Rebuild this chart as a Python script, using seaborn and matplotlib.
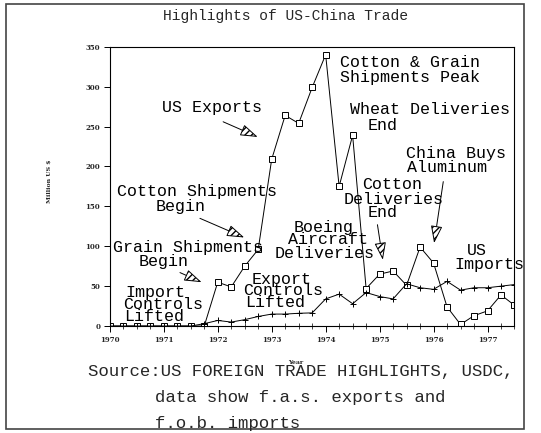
import matplotlib
matplotlib.use("Agg")
import matplotlib.pyplot as plt
import seaborn as sns
import pandas as pd
from matplotlib.patches import Rectangle

# quarterly observations, million US $
quarters = [1970.0, 1970.25, 1970.5, 1970.75, 1971.0, 1971.25, 1971.5, 1971.75,
            1972.0, 1972.25, 1972.5, 1972.75, 1973.0, 1973.25, 1973.5, 1973.75,
            1974.0, 1974.25, 1974.5, 1974.75, 1975.0, 1975.25, 1975.5, 1975.75,
            1976.0, 1976.25, 1976.5, 1976.75, 1977.0, 1977.25, 1977.5]
exports = [0, 0, 0, 0, 0, 0, 0, 0,
           55, 49, 75, 96, 209, 264, 254, 299,
           340, 175, 239, 47, 65, 69, 51, 99,
           79, 24, 2, 13, 19, 39, 26]
imports = [0, 0, 0, 0, 0, 0, 0, 3,
           7, 5, 8, 12, 15, 15, 16, 16.5,
           34, 40, 28, 42, 37, 34, 53, 48,
           46, 56, 45, 48, 48, 50, 52]
year_ticks = [1970, 1971, 1972, 1973, 1974, 1975, 1976, 1977]
y_ticks = [0, 50, 100, 150, 200, 250, 300, 350]

# text labels: (text, x, y) in data units, left aligned
labels = [
    ("US Exports", 1970.97, 274),
    ("Cotton Shipments", 1970.13, 168), ("Begin", 1970.85, 150),
    ("Grain Shipments", 1970.06, 99), ("Begin", 1970.54, 81),
    ("Import", 1970.28, 42), ("Controls", 1970.25, 27), ("Lifted", 1970.26, 12),
    ("Export", 1972.63, 58), ("Controls", 1972.47, 44), ("Lifted", 1972.51, 29),
    ("Boeing", 1973.40, 124), ("Aircraft", 1973.30, 108), ("Deliveries", 1973.05, 91),
    ("Cotton & Grain", 1974.27, 330), ("Shipments Peak", 1974.27, 311),
    ("Wheat Deliveries", 1974.46, 272), ("End", 1974.77, 251),
    ("China Buys", 1975.48, 216), ("Aluminum", 1975.51, 199),
    ("Cotton", 1974.68, 178), ("Deliveries", 1974.34, 159), ("End", 1974.77, 142),
    ("US", 1976.62, 95), ("Imports", 1976.38, 77),
]
# arrows: (tail x, tail y, tip x, tip y)
arrows = [
    (1972.10, 256, 1972.74, 237),
    (1971.67, 135, 1972.49, 111),
    (1971.30, 67, 1971.70, 55),
    (1974.96, 127, 1975.06, 83),
    (1976.18, 181, 1976.01, 104),
]

sns.set_theme(style="white")
plt.rcParams["font.family"] = ["Liberation Mono", "DejaVu Sans Mono"]

fig = plt.figure(figsize=(5.41, 4.33), dpi=100)
ax = fig.add_axes([0.203, 0.247, 0.748, 0.645])

df = pd.DataFrame({"year": quarters, "exports": exports, "imports": imports})
sns.lineplot(data=df, x="year", y="exports", ax=ax, color="black", lw=0.7,
             marker="s", markersize=4, markerfacecolor="white",
             markeredgecolor="black", markeredgewidth=0.7)
sns.lineplot(data=df, x="year", y="imports", ax=ax, color="black", lw=0.7,
             marker="+", markersize=5, markeredgecolor="black",
             markeredgewidth=0.7)

ax.set_xlim(1970, 1977.5)
ax.set_ylim(0, 350)
ax.set_xticks(year_ticks)
ax.set_xticks(quarters, minor=True)
ax.set_yticks(y_ticks)
ax.set_xticklabels([str(y) for y in year_ticks])
for s in ax.spines.values():
    s.set_color("black")
    s.set_linewidth(0.8)
ax.tick_params(axis="both", which="major", direction="out", length=4, width=0.7,
               labelsize=5, color="black", pad=3, bottom=True, left=True)
ax.tick_params(axis="x", which="minor", direction="inout", length=4, width=0.6,
               bottom=True)
for t in ax.get_xticklabels() + ax.get_yticklabels():
    t.set_fontweight("bold")
    t.set_family("DejaVu Serif")
ax.set_xlabel("Year", fontsize=4.5, fontweight="bold", family="DejaVu Serif")
ax.xaxis.set_label_coords(0.459, -0.12)
ax.set_ylabel("Million US $", fontsize=4.5, fontweight="bold", family="DejaVu Serif")
ax.yaxis.set_label_coords(-0.143, 0.52)

for txt, x, y in labels:
    ax.text(x, y, txt, fontsize=12, ha="left", va="center", color="black")

for x0, y0, x1, y1 in arrows:
    ax.annotate("", xy=(x1, y1), xytext=(x0, y0),
                arrowprops=dict(arrowstyle="-|>,head_length=0.9,head_width=0.3",
                                fc="white", ec="black", lw=0.7, hatch="/////",
                                shrinkA=0, shrinkB=0))

fig.text(0.527, 0.963, "Highlights of US-China Trade", fontsize=10.5,
         ha="center", va="center")
fig.text(0.163, 0.143, "Source:US FOREIGN TRADE HIGHLIGHTS, USDC,", fontsize=12.5,
         ha="left", va="center")
fig.text(0.287, 0.081, "data show f.a.s. exports and", fontsize=12.5,
         ha="left", va="center")
fig.text(0.287, 0.023, "f.o.b. imports", fontsize=12.5, ha="left", va="center")

fig.patches.append(Rectangle((0.011, 0.009), 0.957, 0.982, transform=fig.transFigure,
                             fill=False, ec="#444444", lw=1.2))

fig.savefig("out.png", dpi=100)
